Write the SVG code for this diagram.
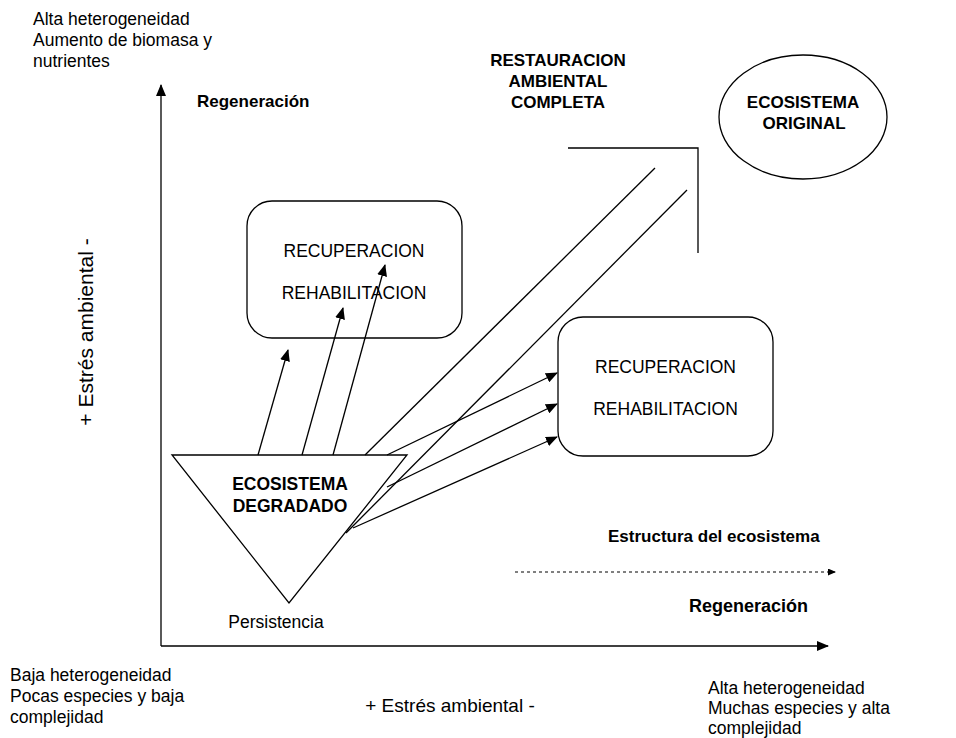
<svg xmlns="http://www.w3.org/2000/svg" width="956" height="738" viewBox="0 0 956 738">
<style>
text{font-family:"Liberation Sans",Arial,sans-serif;fill:#000}
.r{font-size:17.5px}
.b{font-size:17px;font-weight:bold}
.box{font-size:17.5px}
.c{text-anchor:middle}
.s{fill:none;stroke:#000;stroke-width:1.3}
.ar{fill:none;stroke:#000;stroke-width:1.3;marker-end:url(#ah)}
</style>
<defs>
<marker id="ah" markerUnits="userSpaceOnUse" markerWidth="12" markerHeight="10" viewBox="0 0 12 10" refX="11" refY="5" orient="auto">
<path d="M0,0 L12,5 L0,10 z" fill="#000"/>
</marker>
<marker id="sh" markerUnits="userSpaceOnUse" markerWidth="8" markerHeight="7" viewBox="0 0 8 7" refX="7" refY="3.5" orient="auto">
<path d="M0,0 L8,3.5 L0,7 z" fill="#000"/>
</marker>
</defs>
<rect width="956" height="738" fill="#fff"/>

<g id="axes">
<line class="ar" x1="161" y1="646" x2="161" y2="85"/>
<line class="ar" x1="161" y1="646" x2="828" y2="646"/>
</g>

<g id="labels">
<text class="r" x="33" y="25">Alta heterogeneidad</text>
<text class="r" x="33" y="46">Aumento de biomasa y</text>
<text class="r" x="33" y="67">nutrientes</text>
<text class="b" x="197" y="107">Regeneración</text>
<text transform="translate(93,332) rotate(-90)" class="c" style="font-size:21px">+ Estrés ambiental -</text>
<text class="b" x="608" y="542">Estructura del ecosistema</text>
<text style="font-size:18px;font-weight:bold" x="689" y="612">Regeneración</text>
<text class="r" x="10" y="681">Baja heterogeneidad</text>
<text class="r" x="10" y="702">Pocas especies y baja</text>
<text class="r" x="10" y="723">complejidad</text>
<text class="c" style="font-size:19px" x="450" y="712">+ Estrés ambiental -</text>
<text class="r" x="708" y="694">Alta heterogeneidad</text>
<text class="r" x="708" y="714">Muchas especies y alta</text>
<text class="r" x="708" y="734">complejidad</text>
</g>

<g id="restauracion">
<text class="b c" x="558" y="66">RESTAURACION</text>
<text class="b c" x="558" y="87">AMBIENTAL</text>
<text class="b c" x="558" y="108">COMPLETA</text>
</g>

<g id="original">
<ellipse class="s" cx="803" cy="117" rx="84" ry="62"/>
<text class="b c" x="803" y="108">ECOSISTEMA</text>
<text class="b c" x="804" y="129">ORIGINAL</text>
</g>

<g id="box1">
<rect class="s" x="247" y="201" width="215" height="137" rx="25"/>
<text class="box c" x="354" y="257">RECUPERACION</text>
<text class="box c" x="354" y="299">REHABILITACION</text>
</g>

<g id="box2">
<rect class="s" x="558" y="317" width="215" height="139" rx="25"/>
<text class="box c" x="665.5" y="373">RECUPERACION</text>
<text class="box c" x="665.5" y="415">REHABILITACION</text>
</g>

<g id="degradado">
<polygon class="s" points="172,455 407,455 289,603"/>
<text class="b c" style="font-size:17.5px" x="290" y="490">ECOSISTEMA</text>
<text class="b c" style="font-size:17.5px" x="290" y="512">DEGRADADO</text>
<text class="r c" x="276" y="628">Persistencia</text>
</g>

<g id="connectors">
<line class="ar" x1="258" y1="455" x2="288" y2="350"/>
<line class="ar" x1="302" y1="455" x2="343" y2="308"/>
<line class="ar" x1="333" y1="455" x2="385" y2="265"/>
<line class="ar" x1="387" y1="455" x2="557" y2="373"/>
<line class="ar" x1="387" y1="487" x2="557" y2="404"/>
<line class="ar" x1="353" y1="528" x2="557" y2="437"/>
<line class="s" x1="365" y1="455" x2="655" y2="168"/>
<line class="s" x1="346" y1="533" x2="687" y2="190"/>
<polyline class="s" points="568,148 698,148 698,253"/>
<line x1="515" y1="572" x2="835" y2="572" stroke="#000" stroke-width="1" stroke-dasharray="3,3" marker-end="url(#sh)"/>
</g>
</svg>
